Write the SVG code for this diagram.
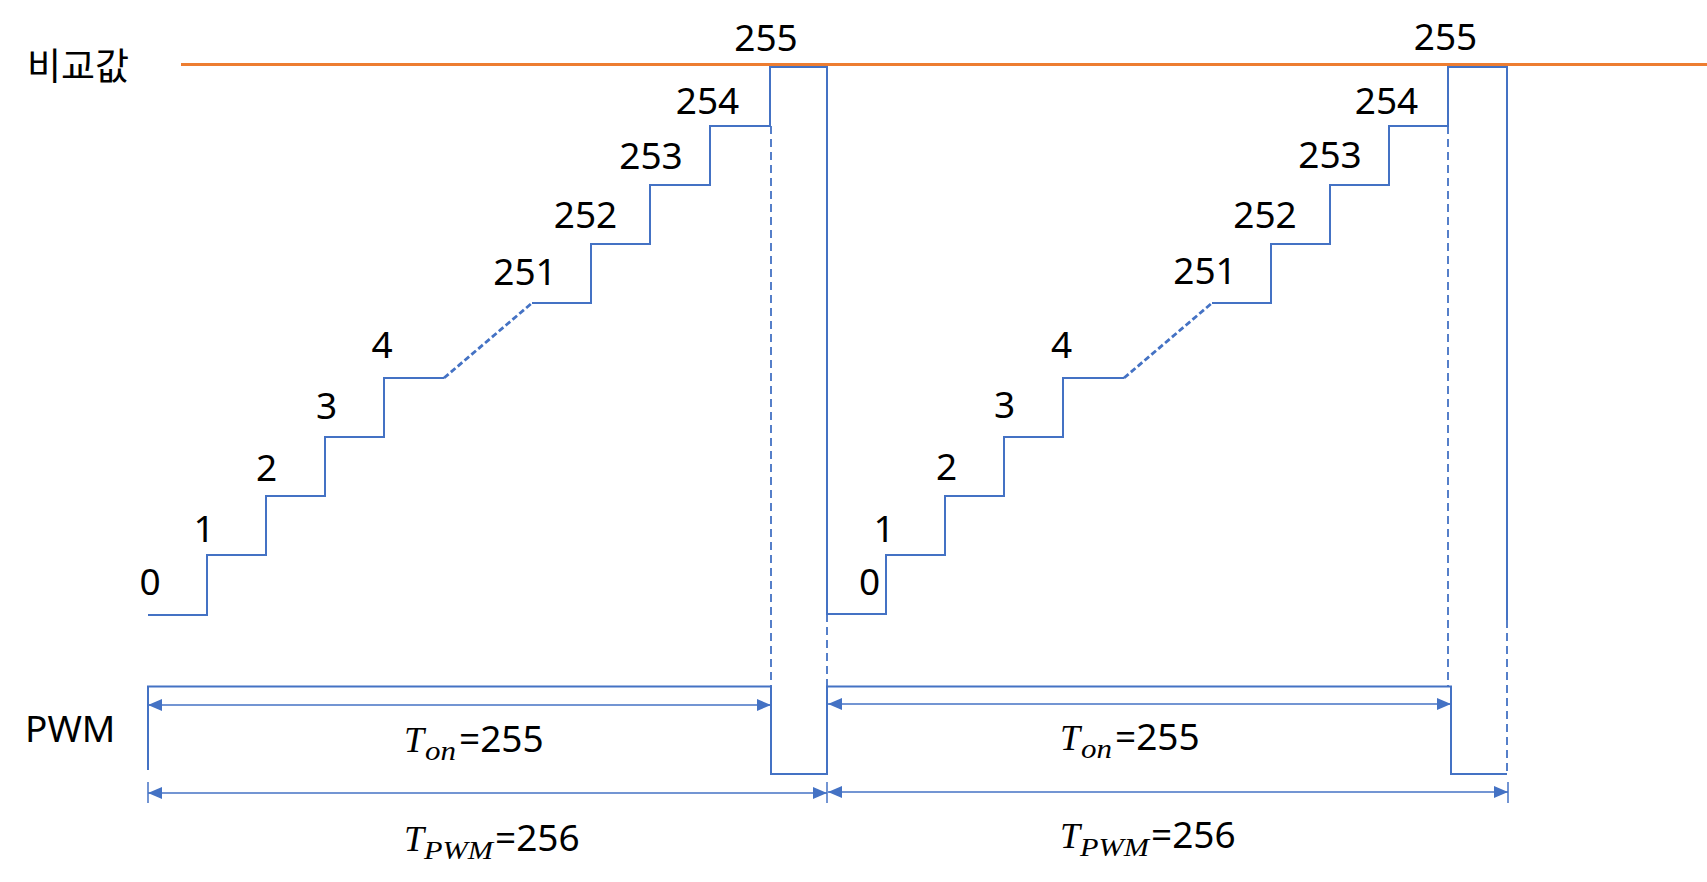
<svg xmlns="http://www.w3.org/2000/svg" width="1707" height="882" viewBox="0 0 1707 882">
<style>
.w{fill:none;stroke:#4472C4;stroke-width:2}
.d{fill:none;stroke:#4472C4;stroke-width:1.8;stroke-dasharray:8 5}
.dd{fill:none;stroke:#4472C4;stroke-width:2.8;stroke-dasharray:6 3}
.a{fill:none;stroke:#4472C4;stroke-width:1.5}
.t{font-family:"Noto Sans","Noto Sans CJK KR",sans-serif;font-size:37px;fill:#000}
.m{font-family:"Liberation Serif",serif;font-style:italic;fill:#000}
</style>
<defs>
<marker id="ah" markerUnits="userSpaceOnUse" markerWidth="14" markerHeight="12" viewBox="0 0 14 12" refX="14" refY="6" orient="auto-start-reverse">
<path d="M0,0 L14,6 L0,12 Z" fill="#4472C4"/>
</marker>
</defs>
<g id="compare-line">
<line x1="181" y1="64.5" x2="1707" y2="64.5" stroke="#ED7D31" stroke-width="3"/>
<text class="t" x="27" y="80">비교값</text>
</g>
<g id="ramp">
<path class="w" d="M148,615 H207 V555 H266 V496 H325 V437 H384 V378 H444"/>
<path class="dd" d="M444,378 L532,303"/>
<path class="w" d="M532,303 H591 V244 H650 V185 H710 V126 H770 V67 H827 V614 H886 V555 H945 V496 H1004 V437 H1063 V378 H1124"/>
<path class="dd" d="M1124,378 L1212,303"/>
<path class="w" d="M1212,303 H1271 V244 H1330 V185 H1389 V126 H1448 V67 H1507 V620"/>
</g>
<g id="ramp-labels" class="t" text-anchor="middle">
<text x="150" y="595">0</text>
<text x="204" y="542">1</text>
<text x="266.5" y="481">2</text>
<text x="326.5" y="419">3</text>
<text x="382" y="358">4</text>
<text x="525" y="285">251</text>
<text x="585.5" y="228">252</text>
<text x="651" y="169">253</text>
<text x="707.5" y="114">254</text>
<text x="766" y="51">255</text>
<text x="869.5" y="595">0</text>
<text x="884" y="542">1</text>
<text x="946.5" y="480">2</text>
<text x="1004.5" y="418">3</text>
<text x="1061.5" y="358">4</text>
<text x="1205" y="284">251</text>
<text x="1265" y="228">252</text>
<text x="1330" y="168">253</text>
<text x="1386.5" y="114">254</text>
<text x="1445.5" y="50">255</text>
</g>
<g id="pwm">
<path class="w" d="M148,770 V686.5 H771 V774 H827 V686.5 H1451 V774 H1507"/>
<text class="t" x="25" y="742">PWM</text>
</g>
<g id="connectors">
<path class="d" d="M771,126 V686"/>
<path class="d" d="M827,614 V686"/>
<path class="d" d="M1448,126 V686"/>
<path class="d" d="M1507,620 V774"/>
<line class="a" x1="148" y1="705" x2="771" y2="705" marker-start="url(#ah)" marker-end="url(#ah)"/>
<line class="a" x1="828" y1="704" x2="1451" y2="704" marker-start="url(#ah)" marker-end="url(#ah)"/>
<line class="a" x1="148" y1="793" x2="827" y2="793" marker-start="url(#ah)" marker-end="url(#ah)"/>
<line class="a" x1="828" y1="792" x2="1508" y2="792" marker-start="url(#ah)" marker-end="url(#ah)"/>
<line class="a" x1="148" y1="782" x2="148" y2="803"/>
<line class="a" x1="827" y1="782" x2="827" y2="803"/>
<line class="a" x1="1508" y1="782" x2="1508" y2="803"/>
</g>
<g id="ton-1">
<text class="m" x="404" y="752" font-size="36">T</text>
<text class="m" x="425" y="760" font-size="28" textLength="31" lengthAdjust="spacingAndGlyphs">on</text>
<text class="t" x="459" y="752">=255</text>
</g>
<g id="tpwm-1">
<text class="m" x="404" y="851" font-size="36">T</text>
<text class="m" x="424" y="859" font-size="26" textLength="69" lengthAdjust="spacingAndGlyphs">PWM</text>
<text class="t" x="495" y="851">=256</text>
</g>
<g id="ton-2">
<text class="m" x="1060" y="750" font-size="36">T</text>
<text class="m" x="1081" y="758" font-size="28" textLength="31" lengthAdjust="spacingAndGlyphs">on</text>
<text class="t" x="1115" y="750">=255</text>
</g>
<g id="tpwm-2">
<text class="m" x="1060" y="848" font-size="36">T</text>
<text class="m" x="1080" y="856" font-size="26" textLength="69" lengthAdjust="spacingAndGlyphs">PWM</text>
<text class="t" x="1151" y="848">=256</text>
</g>
</svg>
